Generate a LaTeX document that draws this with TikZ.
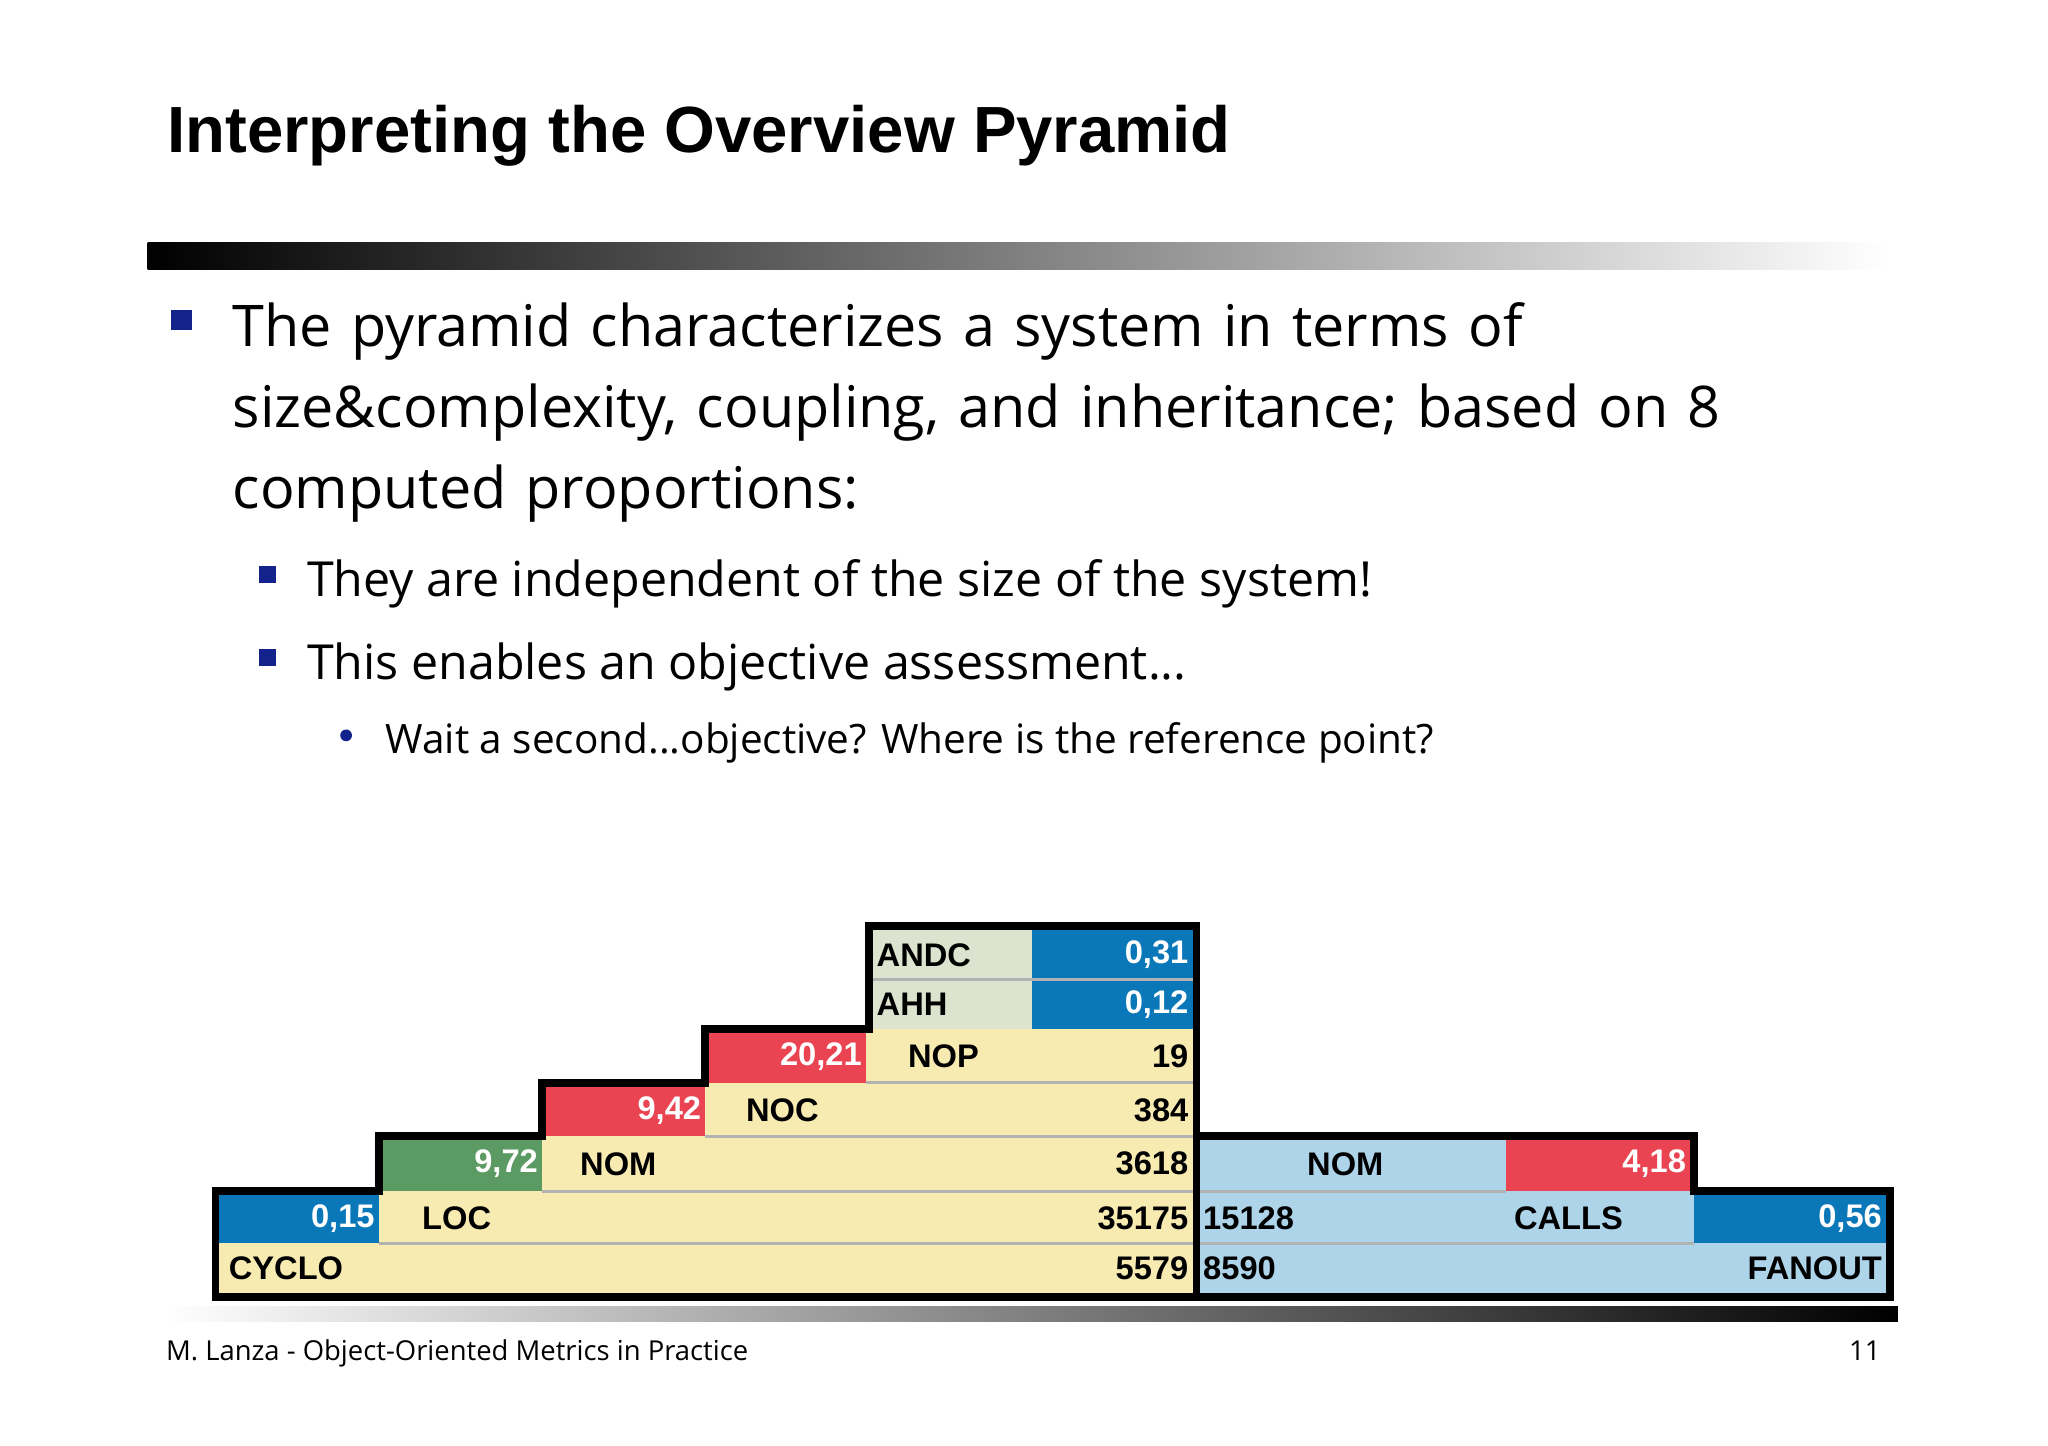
\documentclass[tikz,border=0pt]{standalone}
\usepackage{fontspec}
\setmainfont{Liberation Sans}
\setsansfont{Liberation Sans}
\newfontfamily\bodyfont{Open Sans}
\begin{document}
\begin{tikzpicture}[x=1pt,y=-1pt,
  lab/.style={font=\fontsize{25}{25}\selectfont\bfseries, inner sep=3pt, text=black},
  wlab/.style={lab, text=white},
  sep/.style={draw=gray!60, line width=2.5pt},
  outl/.style={draw=black, line width=6pt, line join=miter}]
\definecolor{cblue}{HTML}{0A77B8}
\definecolor{cgrn}{HTML}{DCE4CF}
\definecolor{cyel}{HTML}{F8EBB2}
\definecolor{cred}{HTML}{EA4452}
\definecolor{cgreen}{HTML}{5C9A63}
\definecolor{clb}{HTML}{AED4EA}
\definecolor{navy}{HTML}{14238C}
\useasboundingbox (0,0) rectangle (1568,1107);
\fill[white] (0,0) rectangle (1568,1107);
% title
\node[anchor=base west, inner sep=0, font=\fontsize{50}{50}\selectfont\bfseries] (title) at (128,117) {Interpreting the Overview Pyramid};
\shade[left color=black, right color=white] (113,186) rectangle (1445,206);
% bullets
\fill[navy] (131,237) rectangle (147,253);
\node[anchor=base west, inner sep=0, font=\bodyfont\fontsize{44}{62}\selectfont, align=left, text width=1300] (b1) at (178,265) {The pyramid characterizes a system in terms of\\size\&complexity, coupling, and inheritance; based on 8\\computed proportions:};
\fill[navy] (198,433) rectangle (211,446);
\node[anchor=base west, inner sep=0, font=\bodyfont\fontsize{37}{37}\selectfont] (b2) at (235,457) {They are independent of the size of the system!};
\fill[navy] (198,497) rectangle (211,510);
\node[anchor=base west, inner sep=0, font=\bodyfont\fontsize{37}{37}\selectfont] (b3) at (235,520) {This enables an objective assessment...};
\fill[navy] (265,563) circle (4.5);
\node[anchor=base west, inner sep=0, font=\bodyfont\fontsize{31}{31}\selectfont] (b4) at (295,577) {Wait a second...objective? Where is the reference point?};
% pyramid fills
\fill[cgrn] (668,712) rectangle (790,788);
\fill[cblue] (790,712) rectangle (913,788);
\fill[cred] (543,788) rectangle (663,829);
\fill[cyel] (663,788) rectangle (913,829);
\fill[cred] (418,829) rectangle (540,870);
\fill[cyel] (540,829) rectangle (913,870);
\fill[cgreen] (293,870) rectangle (415,912);
\fill[cyel] (415,870) rectangle (913,912);
\fill[cblue] (168,912) rectangle (290,952);
\fill[cyel] (290,912) rectangle (913,952);
\fill[cyel] (168,952) rectangle (913,990);
\fill[clb] (918,870) rectangle (1153,990);
\fill[cred] (1153,870) rectangle (1294,912);
\fill[clb] (1153,912) rectangle (1297,990);
\fill[cblue] (1297,912) rectangle (1444,952);
\fill[clb] (1297,952) rectangle (1444,990);
% separators
\draw[sep] (668,750) -- (913,750);
\draw[sep] (663,829) -- (913,829);
\draw[sep] (540,870) -- (913,870);
\draw[sep] (415,912) -- (913,912);
\draw[sep] (290,952) -- (913,952);
\draw[sep] (918,912) -- (1153,912);
\draw[sep] (918,952) -- (1297,952);
% outlines
\draw[outl] (165,993) -- (165,912) -- (290,912) -- (290,870) -- (415,870) -- (415,829) -- (540,829) -- (540,788) -- (665,788) -- (665,709) -- (916,709) -- (916,993) -- cycle;
\draw[outl] (916,870) -- (1297,870) -- (1297,912) -- (1447,912) -- (1447,993) -- (916,993);
% labels
\node[lab, anchor=west] (andc) at (668,731) {ANDC};
\node[wlab, anchor=east] (v1) at (913,731) {0,31};
\node[lab, anchor=west] (ahh) at (668,769) {AHH};
\node[wlab, anchor=east] (v2) at (913,769) {0,12};
\node[wlab, anchor=east] (v3) at (663,809) {20,21};
\node[lab, anchor=west] (nop) at (692,809) {NOP};
\node[lab, anchor=east] (v4) at (913,809) {19};
\node[wlab, anchor=east] (v5) at (540,850) {9,42};
\node[lab, anchor=west] (noc) at (568,850) {NOC};
\node[lab, anchor=east] (v6) at (913,850) {384};
\node[wlab, anchor=east] (v7) at (415,891) {9,72};
\node[lab, anchor=west] (nom) at (441,891) {NOM};
\node[lab, anchor=east] (v8) at (913,891) {3618};
\node[wlab, anchor=east] (v9) at (290,933) {0,15};
\node[lab, anchor=west] (loc) at (320,933) {LOC};
\node[lab, anchor=east] (v10) at (913,933) {35175};
\node[lab, anchor=west] (cyclo) at (172,971) {CYCLO};
\node[lab, anchor=east] (v11) at (913,971) {5579};
\node[lab] (nom2) at (1030,891) {NOM};
\node[wlab, anchor=east] (v12) at (1294,891) {4,18};
\node[lab, anchor=west] (v13) at (918,933) {15128};
\node[lab, anchor=west] (calls) at (1156,933) {CALLS};
\node[wlab, anchor=east] (v14) at (1444,933) {0,56};
\node[lab, anchor=west] (v15) at (918,971) {8590};
\node[lab, anchor=east] (fanout) at (1444,971) {FANOUT};
% bottom bar and footer
\shade[left color=white, right color=black] (125,1000) rectangle (1453,1012);
\node[anchor=base west, inner sep=0, font=\bodyfont\fontsize{21}{21}\selectfont] (foot) at (127,1042) {M. Lanza - Object-Oriented Metrics in Practice};
\node[anchor=base east, inner sep=0, font=\bodyfont\fontsize{21}{21}\selectfont] (pg) at (1440,1042) {11};
\end{tikzpicture}
\end{document}
